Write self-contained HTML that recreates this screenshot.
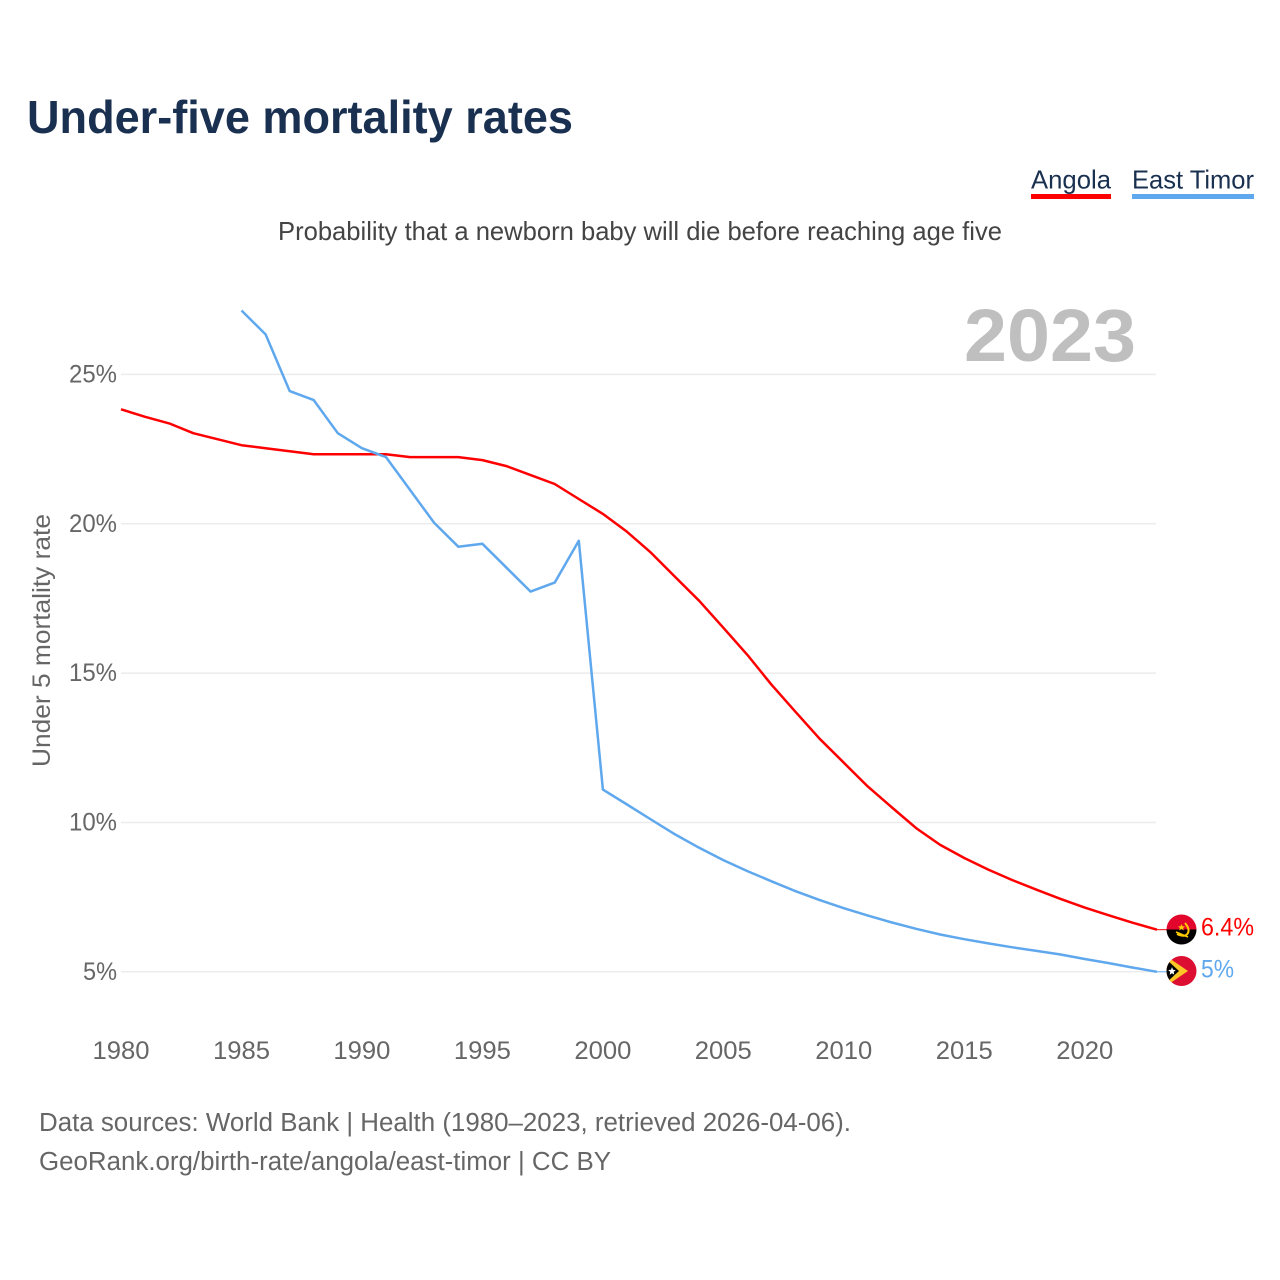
<!DOCTYPE html>
<html lang="en">
<head>
<meta charset="utf-8">
<title>Under-five mortality rates</title>
<style>
html,body{margin:0;padding:0;background:#fff;}
svg{display:block;font-family:"Liberation Sans",sans-serif;}
</style>
</head>
<body>
<svg id="chart" width="1280" height="1280" viewBox="0 0 1280 1280" xmlns="http://www.w3.org/2000/svg">
  <defs>
    <clipPath id="clip-flag-a"><circle cx="1181.5" cy="929.5" r="15"/></clipPath>
    <clipPath id="clip-flag-b"><circle cx="1181.5" cy="971" r="15"/></clipPath>
  </defs>
  <rect width="1280" height="1280" fill="#fff"/>
  <text x="27" y="133" font-size="46" font-weight="700" fill="#1a3050" textLength="546" lengthAdjust="spacingAndGlyphs">Under-five mortality rates</text>
  <g>
    <text x="1031" y="188.5" font-size="26" fill="#1a3050" textLength="80" lengthAdjust="spacingAndGlyphs">Angola</text>
    <rect x="1031" y="194" width="80" height="5" fill="#ff0000"/>
  </g>
  <g>
    <text x="1132" y="188.5" font-size="26" fill="#1a3050" textLength="122" lengthAdjust="spacingAndGlyphs">East Timor</text>
    <rect x="1132" y="194" width="122" height="5" fill="#5fa8ee"/>
  </g>
  <text x="278" y="240" font-size="26" fill="#444" textLength="724" lengthAdjust="spacingAndGlyphs">Probability that a newborn baby will die before reaching age five</text>
  <text x="964" y="361" font-size="74" font-weight="700" fill="#bfbfbf" textLength="172" lengthAdjust="spacingAndGlyphs">2023</text>
  <text transform="translate(50,767) rotate(-90)" x="0" y="0" font-size="25" fill="#666" textLength="253" lengthAdjust="spacingAndGlyphs">Under 5 mortality rate</text>
  <g id="grid"></g>
  <g id="yticks"></g>
  <g id="xticks"></g>
  <g id="series"></g>

  <g clip-path="url(#clip-flag-a)">
    <rect x="1166" y="914" width="31" height="15.5" fill="#e2062c"/>
    <rect x="1166" y="929.5" width="31" height="16" fill="#000"/>
    <path d="M1185 923 Q1190 929 1188 933 Q1185 938 1177 934" fill="none" stroke="#ffcb00" stroke-width="2"/>
    <path d="M1176 932 L1188 937" stroke="#ffcb00" stroke-width="1.6"/>
    <path d="M1181.5 924 L1182.5 926.3 L1185 926.5 L1183.1 928 L1183.8 930.4 L1181.5 929 L1179.2 930.4 L1179.9 928 L1178 926.5 L1180.5 926.3 Z" fill="#ffcb00"/>
  </g>
  <g clip-path="url(#clip-flag-b)">
    <rect x="1166" y="955" width="31" height="32" fill="#dc0f33"/>
    <path d="M1166 956 L1188 971 L1166 986 Z" fill="#ffc726"/>
    <path d="M1166 959 L1179 971 L1166 983 Z" fill="#000"/>
    <path d="M1172 967 L1173 969.7 L1175.8 970 L1173.7 971.9 L1174.3 974.8 L1172 973.2 L1169.7 974.8 L1170.3 971.9 L1168.2 970 L1171 969.7 Z" fill="#fff"/>
  </g>
  <text id="end-label-a" x="1201" y="935.5" font-size="25" fill="#ff0000" textLength="53" lengthAdjust="spacingAndGlyphs">6.4%</text>
  <text id="end-label-b" x="1201" y="977.5" font-size="25" fill="#5fa8ee" textLength="33" lengthAdjust="spacingAndGlyphs">5%</text>

  <text x="39" y="1131" font-size="25.5" fill="#666" textLength="812" lengthAdjust="spacingAndGlyphs">Data sources: World Bank | Health (1980–2023, retrieved 2026-04-06).</text>
  <text x="39" y="1170" font-size="25.5" fill="#666" textLength="572" lengthAdjust="spacingAndGlyphs">GeoRank.org/birth-rate/angola/east-timor | CC BY</text>
</svg>
<script>
const years = [1980,1981,1982,1983,1984,1985,1986,1987,1988,1989,1990,1991,1992,1993,1994,1995,1996,1997,1998,1999,2000,2001,2002,2003,2004,2005,2006,2007,2008,2009,2010,2011,2012,2013,2014,2015,2016,2017,2018,2019,2020,2021,2022,2023];
const angolaValues = [23.83,23.58,23.36,23.03,22.83,22.63,22.53,22.43,22.33,22.33,22.33,22.33,22.23,22.23,22.23,22.13,21.93,21.63,21.33,20.83,20.33,19.73,19.03,18.22,17.42,16.52,15.61,14.61,13.7,12.8,12.0,11.2,10.5,9.81,9.25,8.81,8.42,8.07,7.75,7.44,7.15,6.89,6.64,6.41];
const eastTimorValues = [null,null,null,null,null,27.14,26.34,24.44,24.14,23.03,22.53,22.23,21.13,20.03,19.23,19.33,18.53,17.73,18.03,19.43,11.1,10.6,10.1,9.6,9.15,8.74,8.37,8.03,7.7,7.4,7.13,6.88,6.65,6.44,6.25,6.09,5.95,5.82,5.7,5.58,5.43,5.29,5.14,5.0];
const yTickValues = [5,10,15,20,25];
const xTickValues = [1980,1985,1990,1995,2000,2005,2010,2015,2020];

const NS = 'http://www.w3.org/2000/svg';
const xScale = y => 121 + (y - 1980) * (1157 - 121) / 43;
const yScale = v => 971.8 - (v - 5) * 29.87;

function make(tag, attrs, parent, text) {
  const el = document.createElementNS(NS, tag);
  for (const k in attrs) el.setAttribute(k, attrs[k]);
  if (text !== undefined) el.textContent = text;
  parent.appendChild(el);
  return el;
}

const grid = document.getElementById('grid');
const yticks = document.getElementById('yticks');
const xticks = document.getElementById('xticks');
const series = document.getElementById('series');

yTickValues.forEach(v => {
  const line = make('line', {x1: 121, x2: 1156, y1: yScale(v), y2: yScale(v), stroke: '#ececec', 'stroke-width': 1.5}, grid);
  
  
  const tickWidth = v < 10 ? 34 : 48;
  const label = make('text', {x: 117 - tickWidth, y: yScale(v) + 8, 'font-size': 25, fill: '#666', textLength: tickWidth, lengthAdjust: 'spacingAndGlyphs'}, yticks, v + '%');
  
  
});

xTickValues.forEach(y => {
  const label = make('text', {x: xScale(y) - 28.5, y: 1059, 'font-size': 25, fill: '#666', textLength: 57, lengthAdjust: 'spacingAndGlyphs'}, xticks, String(y));
  
  
});

function pathFor(values) {
  const pts = [];
  values.forEach((v, i) => { if (v !== null) pts.push(xScale(years[i]).toFixed(1) + ',' + yScale(v).toFixed(1)); });
  return pts;
}

const angolaLine = make('polyline', {points: pathFor(angolaValues).join(' '), fill: 'none', stroke: '#ff0000', 'stroke-width': 2.5, 'stroke-linejoin': 'round'}, series);



const timorLine = make('polyline', {points: pathFor(eastTimorValues).join(' '), fill: 'none', stroke: '#5fa8ee', 'stroke-width': 2.5, 'stroke-linejoin': 'round'}, series);



const lastA = angolaValues[angolaValues.length - 1];
const lastB = eastTimorValues[eastTimorValues.length - 1];
const leaderA = make('line', {x1: xScale(2023), x2: 1167, y1: yScale(lastA), y2: yScale(lastA), stroke: '#ff0000', 'stroke-width': 1}, series);


const leaderB = make('line', {x1: xScale(2023), x2: 1167, y1: yScale(lastB), y2: yScale(lastB), stroke: '#5fa8ee', 'stroke-width': 1}, series);


</script>
</body>
</html>
